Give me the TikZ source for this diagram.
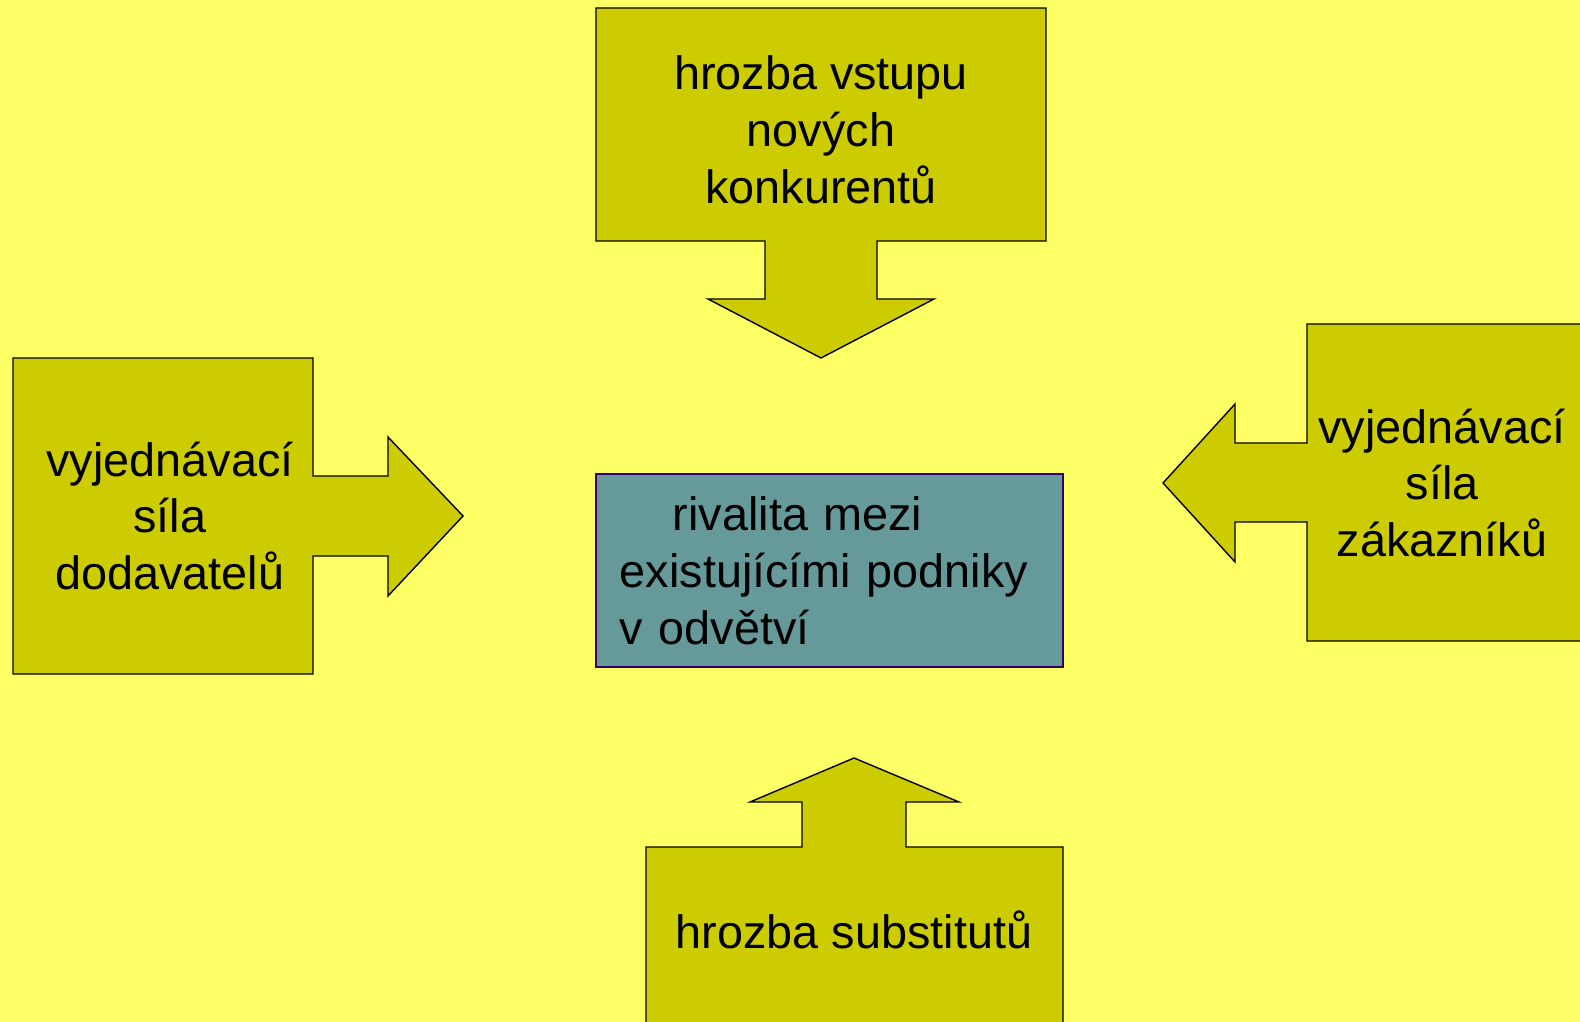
\documentclass[tikz,border=0pt]{standalone}
\usepackage{fontspec}
\setmainfont{Liberation Sans}
\definecolor{bgyellow}{HTML}{FFFF66}
\definecolor{forceolive}{HTML}{CCCC00}
\definecolor{rivalteal}{HTML}{669999}
\definecolor{rivalline}{HTML}{330066}

\begin{document}
\begin{tikzpicture}[x=0.01cm,y=-0.01cm,
  force/.style={draw=black,fill=forceolive,line join=miter},
  forcetext/.style={inner sep=0pt,align=center,font=\fontsize{13.3}{16.2}\selectfont}]
\useasboundingbox (0,0) rectangle (1580,1022);
\fill[bgyellow] (0,0) rectangle (1580,1022);
\clip (0,0) rectangle (1580,1022);

\draw[force] (596,8) -- (1046,8) -- (1046,241) -- (877,241) -- (877,299) -- (934,299) -- (821,358)
  -- (708,299) -- (765,299) -- (765,241) -- (596,241) -- cycle;
\draw[force] (13,358) -- (313,358) -- (313,476) -- (388,476) -- (388,437) -- (463,516) -- (388,596)
  -- (388,556) -- (313,556) -- (313,674) -- (13,674) -- cycle;
\draw[force] (1307,324) -- (1600,324) -- (1600,641) -- (1307,641) -- (1307,522) -- (1235,522)
  -- (1235,562) -- (1163,483) -- (1235,404) -- (1235,443) -- (1307,443) -- cycle;
\draw[force] (646,1040) -- (646,847) -- (802,847) -- (802,802) -- (750,802) -- (854,758) -- (959,802)
  -- (906,802) -- (906,847) -- (1063,847) -- (1063,1040) -- cycle;

\node[forcetext] (1) at (821,130) {hrozba vstupu\\nových\\konkurentů};
\node[forcetext] (2) at (170,516) {vyjednávací\\síla\\dodavatelů};
\node[forcetext] (3) at (1442,483) {vyjednávací\\síla\\zákazníků};
\node[forcetext] (4) at (854,930) {hrozba substitutů};
\node[rectangle, draw=rivalline, fill=rivalteal, align=left, inner xsep=0.24cm, inner ysep=0pt,
  text width=4.19cm, minimum height=1.93cm, font=\fontsize{13.3}{16.2}\selectfont]
  (0) at (829.5,570.5) {\hspace*{0.53cm}rivalita mezi\\existujícími podniky\\v odvětví};
\end{tikzpicture}
\end{document}
